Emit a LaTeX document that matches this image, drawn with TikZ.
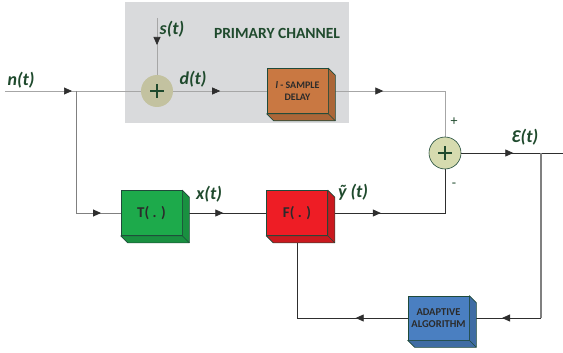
\documentclass[tikz,border=0pt]{standalone}
\usepackage{fontspec}
\setmainfont{Carlito}
\usetikzlibrary{calc,arrows.meta,decorations.markings,backgrounds}

\definecolor{chanfill}{HTML}{D9DADC}
\definecolor{lblgreen}{HTML}{1F4A2D}
\definecolor{edge}{HTML}{1F4A3A}
\definecolor{boxtext}{HTML}{2B2B2B}
\definecolor{sumgray}{HTML}{C3C2A0}
\definecolor{sumlite}{HTML}{D6DBAF}
\definecolor{tgreen}{HTML}{1DAA4B}
\definecolor{fred}{HTML}{EE1D25}
\definecolor{delayc}{HTML}{C97842}
\definecolor{ablue}{HTML}{4A7FC1}
\definecolor{wirec}{HTML}{2E2E2E}

\tikzset{
	sig/.style={font=\bfseries\itshape\fontsize{18}{18}\selectfont, text=lblgreen, inner sep=0pt},
	blk/.style={draw=edge, line width=0.6pt, minimum width=61pt, minimum height=45pt,
		inner sep=0pt, align=center, text=boxtext, font=\bfseries\fontsize{15}{15}\selectfont},
	small/.style={font=\bfseries\fontsize{#1}{12}\selectfont},
	junc/.style={circle, minimum size=32pt, inner sep=0pt,
		path picture={\draw[line width=1.5pt, lblgreen]
			($(path picture bounding box.center)+(-7,0)$) -- ++(14,0)
			($(path picture bounding box.center)+(0,-7)$) -- ++(0,14);}},
	wire/.style={draw=wirec, line width=0.8pt},
	lite/.style={draw=gray!70, line width=0.7pt},
	arrowat/.style={postaction={decorate, decoration={markings,
		mark=at position #1 with {\arrow[wirec]{Triangle[length=8pt,width=7pt]}}}}},
}

% depth faces of a block: node name, colour
\newcommand{\bevel}[2]{
	\filldraw[fill=#2, draw=edge, line width=0.6pt, line join=round]
		(#1.north east) -- ++(7,7) |- ($(#1.south west)+(7,7)$)
		-- (#1.south west) -- (#1.south east) -- cycle;
	\draw[edge, line width=0.6pt] (#1.south east) -- ++(7,7);
}

\begin{document}
\begin{tikzpicture}[x=1pt,y=-1pt]
\useasboundingbox (0,0) rectangle (563,353);

% free ends and branch points
\coordinate (nin) at (5,91);
\coordinate (b1) at (76,91);
\coordinate (sin) at (157,18);
\coordinate (eout) at (563,153);
\coordinate (b2) at (541,153);

% primary channel
\node[junc, fill=sumgray] (sum1) at (157,91) {};
\node[blk, small=10, fill=delayc] (delay) at (297.5,91) {\textit{l} - SAMPLE\\DELAY};
\bevel{delay}{delayc!85!black}

% error sum
\node[junc, fill=sumlite, draw=edge, line width=0.6pt] (sum2) at (445,153) {};

% lower branch
\node[blk, fill=tgreen] (T) at (151.5,213) {T( . )};
\bevel{T}{tgreen!85!black}
\node[blk, fill=fred] (F) at (297,213) {F( . )};
\bevel{F}{fred!85!black}
\node[blk, small=10.5, fill=ablue, minimum height=44pt] (adapt) at (438.5,318) {ADAPTIVE\\ALGORITHM};
\bevel{adapt}{ablue!85!black}

% labels
\node[sig] (lbln) at (21,80) {n(t)};
\node[sig] (lbls) at (172,29) {s(t)};
\node[sig] (lbld) at (193,79) {d(t)};
\node[sig] (lblx) at (209,194) {x(t)};
\node[sig] (lbly) at (353,192) {ỹ (t)};
\node[sig] (lble) at (525,137) {Ɛ(t)};
\node[font=\bfseries\fontsize{15.5}{15.5}\selectfont, text=lblgreen] (chan) at (277,33) {PRIMARY CHANNEL};
\node[font=\fontsize{14}{14}\selectfont, text=lblgreen] (lplus) at (454,122) {+};
\node[font=\fontsize{14}{14}\selectfont, text=lblgreen] (lminus) at (454,185) {-};

\begin{scope}[on background layer]
	\fill[chanfill] (125,2) rectangle (349,123);
	% upper path
	\draw[lite, arrowat=67pt] (nin) -- (sum1);
	\draw[lite, arrowat=27pt] (sin) -- (sum1);
	\draw[lite, arrowat=47pt] (sum1) -- (delay);
	\draw[lite, arrowat=55pt] (delay) -| (sum2);
	% lower path
	\draw[draw=gray, line width=1pt, arrowat=147pt] (b1) |- (T);
	\draw[wire, arrowat=41pt] (T) -- (F);
	\draw[wire, arrowat=53pt] (F) -| (sum2);
	\draw[wire, arrowat=52pt] (sum2) -- (eout);
	% feedback
	\draw[draw=gray, line width=1.2pt] (b2) -- (541,318);
	\draw[wire, arrowat=39pt] (541,318) -- (adapt);
	\draw[wire, arrowat=52pt] (adapt) -| (F);
\end{scope}
\end{tikzpicture}
\end{document}
